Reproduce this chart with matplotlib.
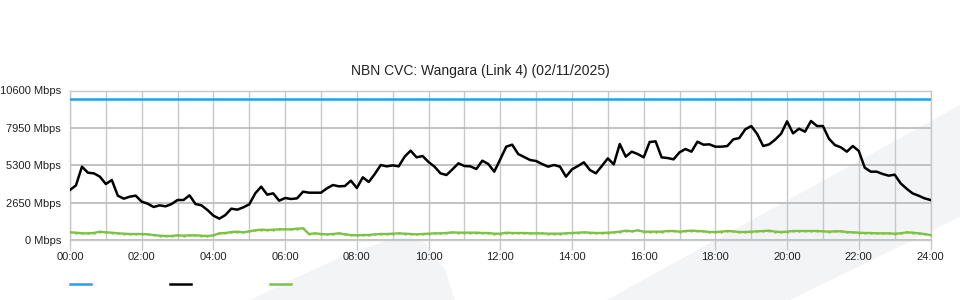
import numpy as np
import matplotlib
matplotlib.use("Agg")
import matplotlib.pyplot as plt
from matplotlib.patches import Polygon
from matplotlib.lines import Line2D

plt.rcParams['font.family'] = ['Liberation Sans', 'DejaVu Sans']

# --- data (10 minute samples, Mbps) ---
TITLE = "NBN CVC: Wangara (Link 4) (02/11/2025)"
CAPACITY = 10000
traffic = [
    3545, 3875, 5200, 4773, 4726, 4490, 3970, 4253, 3143, 2930, 3072, 3143,
    2717, 2576, 2340, 2457, 2387, 2552, 2836, 2836, 3166, 2552, 2457, 2127,
    1725, 1512, 1772, 2221, 2150, 2316, 2528, 3308, 3780, 3213, 3308, 2788,
    2977, 2906, 2954, 3426, 3355, 3355, 3355, 3663, 3899, 3804, 3828, 4206,
    3686, 4442, 4112, 4679, 5317, 5222, 5293, 5222, 5908, 6333, 5860, 5955,
    5529, 5199, 4726, 4608, 5010, 5435, 5246, 5222, 5033, 5624, 5388, 4844,
    5719, 6616, 6758, 6097, 5884, 5671, 5600, 5388, 5199, 5317, 5199, 4490,
    5010, 5246, 5506, 4962, 4726, 5246, 5790, 5364, 6805, 5908, 6262, 6097,
    5860, 6947, 6994, 5860, 5813, 5719, 6215, 6451, 6262, 6970, 6758, 6781,
    6616, 6616, 6663, 7136, 7230, 7845, 8081, 7514, 6663, 6781, 7112, 7538,
    8412, 7562, 7892, 7680, 8436, 8081, 8081, 7183, 6734, 6569, 6262, 6663,
    6309, 5128, 4844, 4844, 4679, 4561, 4632, 4017, 3639, 3308, 3143, 2954,
    2836,
]
other = [
    543, 520, 473, 473, 496, 591, 543, 520, 473, 449, 425, 425,
    425, 402, 354, 307, 284, 284, 331, 307, 331, 331, 307, 284,
    331, 473, 496, 567, 591, 543, 614, 685, 733, 709, 733, 756,
    756, 756, 803, 827, 425, 473, 425, 402, 425, 473, 402, 354,
    331, 354, 354, 402, 425, 425, 449, 473, 449, 425, 402, 425,
    449, 473, 473, 496, 543, 520, 520, 520, 520, 496, 496, 449,
    449, 520, 496, 496, 496, 473, 473, 473, 449, 449, 449, 473,
    496, 520, 543, 520, 496, 496, 520, 543, 591, 662, 614, 685,
    591, 591, 591, 591, 638, 638, 591, 638, 662, 638, 614, 567,
    567, 591, 638, 614, 567, 567, 591, 614, 638, 662, 591, 567,
    591, 638, 638, 638, 638, 638, 614, 591, 614, 614, 567, 543,
    520, 496, 496, 473, 473, 473, 449, 473, 543, 520, 473, 425,
    354,
]
hours = np.arange(len(traffic)) * 10 / 60
y_ticks = [0, 2650, 5300, 7950, 10600]
x_ticks = list(range(0, 25, 2))

BLUE = '#1ea4e6'
GREEN = '#7dc242'
GRID = '#c8c8c8'

fig = plt.figure(figsize=(9.6, 3), dpi=100)
fig.patch.set_facecolor('white')

# light background decoration (behind everything)
W, H = 960, 300
def px(pts):
    return [(x / W, 1 - y / H) for x, y in pts]
bg = fig.add_axes([0, 0, 1, 1], zorder=-10)
bg.set_axis_off()
bg.set_xlim(0, 1)
bg.set_ylim(0, 1)
bg.add_patch(Polygon(px([(250, 300), (300, 276), (350, 253), (395, 238),
                         (410, 237), (425, 243), (445, 270), (455, 300)]),
                     closed=True, facecolor='#f3f4f6', edgecolor='none'))
bg.add_patch(Polygon(px([(607, 300), (960, 105), (960, 217), (790, 300)]),
                     closed=True, facecolor='#f3f4f6', edgecolor='none'))

ax = fig.add_axes([70 / W, 1 - 240 / H, 860.5 / W, 149.5 / H], zorder=1)
ax.set_facecolor('none')

ax.plot([0, 24], [CAPACITY, CAPACITY], color=BLUE, lw=1.8, zorder=3)
ax.plot(hours, other, color=GREEN, lw=1.7, marker='.', ms=1.5, zorder=3)
ax.plot(hours, traffic, color='black', lw=1.8, zorder=4)

ax.set_xlim(0, 24)
ax.set_ylim(0, 10600)
ax.set_yticks(y_ticks)
ax.set_yticklabels([f"{v} Mbps" for v in y_ticks])
ax.set_xticks(x_ticks)
ax.set_xticklabels([f"{h:02d}:00" for h in x_ticks])
ax.set_xticks(range(1, 24, 2), minor=True)
ax.tick_params(axis='y', length=0, pad=6.5, labelsize=8, colors='#222222')
ax.tick_params(axis='x', which='major', length=7.5, width=1, color=GRID,
               pad=1, labelsize=8, labelcolor='#222222')
ax.tick_params(axis='x', which='minor', length=0)
ax.grid(axis='x', which='both', color=GRID, lw=1)
ax.grid(axis='y', color='#bdbdbd', lw=1.3)
for s in ax.spines.values():
    s.set_color(GRID)
    s.set_linewidth(1)

fig.text(0.5, 1 - 71 / H, TITLE, ha='center', va='center', fontsize=10, color='#222222')

handles = [Line2D([], [], color=c, lw=1.8) for c in (BLUE, 'black', GREEN)]
fig.legend(handles, ['', '', ''], loc='center left', bbox_to_anchor=(70 / W, 1 - 285 / H),
           ncol=3, frameon=False, handlelength=1.9, handletextpad=0,
           columnspacing=7.1, borderpad=0, borderaxespad=0, fontsize=8)

fig.savefig('out.png', dpi=100)
